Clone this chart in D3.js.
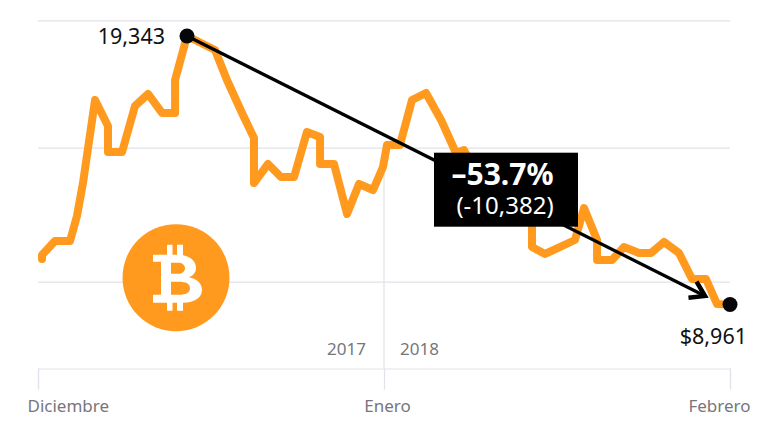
<!DOCTYPE html>
<html><head><meta charset="utf-8">
<script src="https://cdn.jsdelivr.net/npm/d3@7"></script>
<style>html,body{margin:0;background:#fff}svg{display:block;font-family:"Noto Sans",sans-serif}</style>
</head><body><svg id="c" width="768" height="432"></svg>
<script>
const days=[0.36,0.36,1.52,2.87,3.49,4.03,5.11,6.27,6.27,7.53,8.69,9.86,11.11,12.28,12.28,13.35,15.86,16.93,18.28,19.35,19.35,20.61,21.77,22.94,24.10,25.27,25.27,26.52,27.69,28.76,30.02,30.91,31.27,32.43,33.51,34.76,36.11,37.45,38.17,39.33,40.5,41.75,43.0,44.26,44.26,45.43,48.11,48.92,50.09,50.09,51.43,52.5,53.85,54.92,56.09,57.43,58.6,59.85,60.84,62];
const prices=[10720,10875,11417,11417,12383,13659,16869,15864,14858,14858,16637,17101,16366,16366,17642,19343,18802,17642,16366,15400,13659,14394,13891,13891,15632,15438,14394,14394,12461,13621,13389,14278,15129,15129,16869,17140,16096,14819,14935,13969,13389,12809,13002,12809,11185,10914,11455,12693,11455,10682,10682,11185,10953,10953,11378,10953,9947,9947,8980,8961];
const gridValues=[9830,15010,19925];
const tickDays=[0,31,62];
const tickLabels=["Diciembre","Enero","Febrero"];
const peak={day:13.35,price:19343,label:"19,343"};
const last={day:62,price:8961,label:"$8,961"};
const arrowEnd={day:59.76,price:9290};
const yearLabels=["2017","2018"];
const boxLines=["–53.7%","(-10,382)"];

const svg=d3.select("#c");
const x=d3.scaleLinear().domain([0,62]).range([38,730]);
const y=d3.scaleLinear().domain([8961,19343]).range([304.5,36]);
const ORANGE="#FF9A1F",GRID="#E3E1EA",GREY="#77767C";

svg.append("defs").append("marker").attr("id","arrow").attr("markerUnits","userSpaceOnUse")
 .attr("viewBox","-16 -12 20 24").attr("refX",0).attr("refY",0).attr("markerWidth",20).attr("markerHeight",24).attr("orient","auto")
 .append("path").attr("d","M-14,-9 L0,0 L-14,9").attr("fill","none").attr("stroke","#000").attr("stroke-width",4.5);

svg.append("g").selectAll("line").data(gridValues).join("line")
 .attr("x1",x(0)).attr("x2",x(62)).attr("y1",d=>y(d)).attr("y2",d=>y(d))
 .attr("stroke",GRID).attr("stroke-width",1.2);
svg.append("line").attr("x1",x(31)).attr("x2",x(31)).attr("y1",y(gridValues[1])).attr("y2",368).attr("stroke",GRID).attr("stroke-width",1.2);

const ax=svg.append("g").attr("transform","translate(0,368.5)")
 .call(d3.axisBottom(x).tickValues(tickDays).tickFormat((d,i)=>tickLabels[i]).tickSize(21).tickPadding(10));
ax.select(".domain").attr("stroke",GRID).attr("stroke-width",1.2);
ax.selectAll(".tick line").attr("stroke",GRID).attr("stroke-width",1.2);
ax.selectAll(".tick text").attr("fill",GREY).attr("font-size",17).attr("font-family",'"Noto Sans",sans-serif')
 .attr("text-anchor",(d,i)=>["start","middle","end"][i]).attr("x",(d,i)=>[-11,3,20][i]);

svg.append("g").selectAll("text").data(yearLabels).join("text")
 .attr("x",(d,i)=>x(31)+(i?16:-18)).attr("y",355).attr("text-anchor",(d,i)=>i?"start":"end")
 .attr("fill",GREY).attr("font-size",17).text(d=>d);

svg.append("path").datum(days.map((d,i)=>[d,prices[i]]))
 .attr("d",d3.line().x(d=>x(d[0])).y(d=>y(d[1])))
 .attr("fill","none").attr("stroke",ORANGE).attr("stroke-width",8).attr("stroke-linejoin","round").attr("stroke-linecap","round");

// coin
const coin=svg.append("g").attr("transform","translate(176,277.7)");
coin.append("circle").attr("r",53.5).attr("fill",ORANGE);
coin.append("path").attr("fill","#fff").attr("fill-rule","evenodd").attr("d",
"M-9,-33H-3.5V-23H1V-33H7V-22.5C15,-21 20,-16 20,-10C20,-5 17,-2 13,-.5C21,1 26,6 26,12C26,20 19,24.5 7,25V33H1V25H-3.5V33H-9V25H-23V17H-15V-16H-23V-23H-9Z M-5,-15V-4H2C6,-4 9,-6 9,-9.5C9,-13 6,-15 2,-15Z M-5,4V17H3C10,17 14,15 14,10.5C14,6 10,4 3,4Z");

// arrow
svg.append("line").attr("x1",x(peak.day)).attr("y1",y(peak.price)).attr("x2",x(arrowEnd.day)).attr("y2",y(arrowEnd.price))
 .attr("stroke","#000").attr("stroke-width",3.2).attr("marker-end","url(#arrow)");

svg.append("g").selectAll("circle").data([peak,last]).join("circle")
 .attr("cx",d=>x(d.day)).attr("cy",d=>y(d.price)).attr("r",7.5).attr("fill","#060608");

svg.append("text").attr("x",x(peak.day)-22).attr("y",y(peak.price)+7.5).attr("text-anchor","end").attr("font-size",21.5).attr("fill","#111").text(peak.label);
svg.append("text").attr("x",747).attr("y",344).attr("text-anchor","end").attr("font-size",21.5).attr("fill","#111").text(last.label);

svg.append("rect").attr("x",434).attr("y",152.7).attr("width",144).attr("height",74).attr("fill","#000");
svg.append("text").attr("x",502.5).attr("y",185).attr("text-anchor","middle").attr("font-size",30).attr("font-weight",700).attr("fill","#fff").text(boxLines[0]);
svg.append("text").attr("x",505).attr("y",214).attr("text-anchor","middle").attr("font-size",24).attr("fill","#fff").text(boxLines[1]);
</script></body></html>
